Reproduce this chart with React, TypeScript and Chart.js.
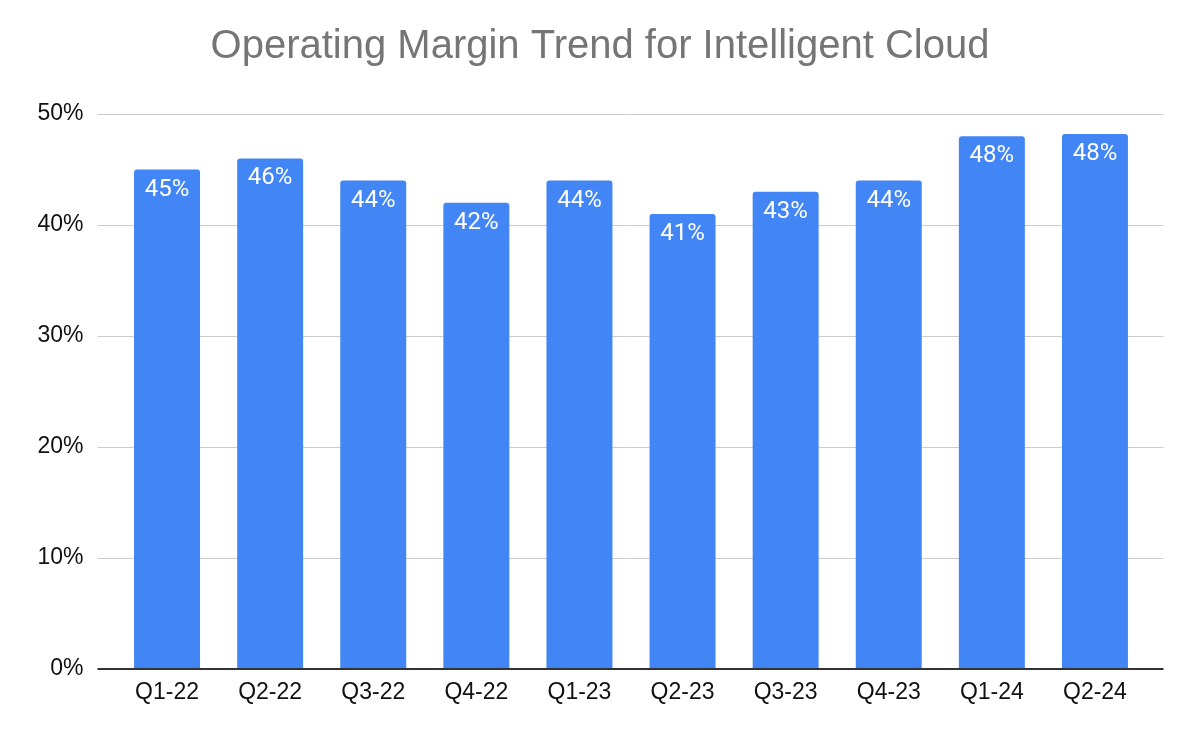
import React, { useEffect, useRef } from "react";
import { Chart, registerables } from "chart.js";

Chart.register(...registerables);

const categories = ["Q1-22", "Q2-22", "Q3-22", "Q4-22", "Q1-23", "Q2-23", "Q3-23", "Q4-23", "Q1-24", "Q2-24"];
const margins = [45, 46, 44, 42, 44, 41, 43, 44, 48, 48.2];
const yTicks = [0, 10, 20, 30, 40, 50];
const titleText = "Operating Margin Trend for Intelligent Cloud";

const extras = {
  id: "extras",
  beforeDatasetsDraw(chart: any) {
    const { ctx, chartArea, scales } = chart;
    const y = scales.y;
    const l = chartArea.left - 18;
    const r = chartArea.right + 17;
    ctx.save();
    ctx.strokeStyle = "#cccccc";
    ctx.lineWidth = 1;
    yTicks.forEach((t) => {
      if (t === 0) return;
      const py = Math.round(y.getPixelForValue(t)) + 0.5;
      ctx.beginPath();
      ctx.moveTo(l, py);
      ctx.lineTo(r, py);
      ctx.stroke();
    });
    ctx.restore();
  },
  afterDatasetsDraw(chart: any) {
    const { ctx, chartArea, scales } = chart;
    const y = scales.y;
    const l = chartArea.left - 18;
    const r = chartArea.right + 17;
    ctx.save();
    ctx.strokeStyle = "#333333";
    ctx.lineWidth = 2;
    const py = y.getPixelForValue(0);
    ctx.beginPath();
    ctx.moveTo(l, py);
    ctx.lineTo(r, py);
    ctx.stroke();

    const meta = chart.getDatasetMeta(0);
    ctx.fillStyle = "#ffffff";
    ctx.font = "24px Roboto";
    ctx.textAlign = "center";
    ctx.textBaseline = "middle";
    meta.data.forEach((bar: any, i: number) => {
      ctx.fillText(Math.round(margins[i]) + "%", bar.x, bar.y + 20);
    });

    ctx.fillStyle = "#757575";
    ctx.font = "40px 'Liberation Sans', Arial, sans-serif";
    ctx.textAlign = "center";
    ctx.textBaseline = "middle";
    ctx.fillText(titleText, 600, 47);
    ctx.restore();
  },
};

export default function App() {
  const ref = useRef<HTMLCanvasElement>(null);
  useEffect(() => {
    document.body.style.margin = "0";
    const chart = new Chart(ref.current!, {
      type: "bar",
      data: {
        labels: categories,
        datasets: [
          {
            data: margins,
            backgroundColor: "#4285F4",
            borderRadius: { topLeft: 3, topRight: 3, bottomLeft: 0, bottomRight: 0 },
            borderSkipped: "start",
            barPercentage: 0.8,
            categoryPercentage: 0.8,
          },
        ],
      },
      options: {
        animation: false,
        responsive: false,
        devicePixelRatio: 1,
        layout: { padding: { top: 114, right: 53.5, left: 0, bottom: 0 } },
        plugins: { legend: { display: false }, title: { display: false }, tooltip: { enabled: false } },
        scales: {
          x: {
            grid: { display: false, drawTicks: false },
            border: { display: false },
            ticks: {
              color: "#111111",
              font: { family: "'Liberation Sans', Arial, sans-serif", size: 23 },
              padding: 10,
              maxRotation: 0,
            },
            afterFit(scale: any) {
              scale.height = 73;
            },
          },
          y: {
            min: 0,
            max: 50,
            grid: { display: false, drawTicks: false },
            border: { display: false },
            ticks: {
              stepSize: 10,
              color: "#111111",
              font: { family: "'Liberation Sans', Arial, sans-serif", size: 23 },
              padding: 32,
              callback: (v: any) => v + "%",
            },
            afterFit(scale: any) {
              scale.width = 115.5;
            },
          },
        },
      },
      plugins: [extras],
    });
    return () => chart.destroy();
  }, []);
  return (
    <div style={{ width: 1200, height: 742 }}>
      <canvas ref={ref} width={1200} height={742} style={{ width: 1200, height: 742, display: "block" }} />
    </div>
  );
}
